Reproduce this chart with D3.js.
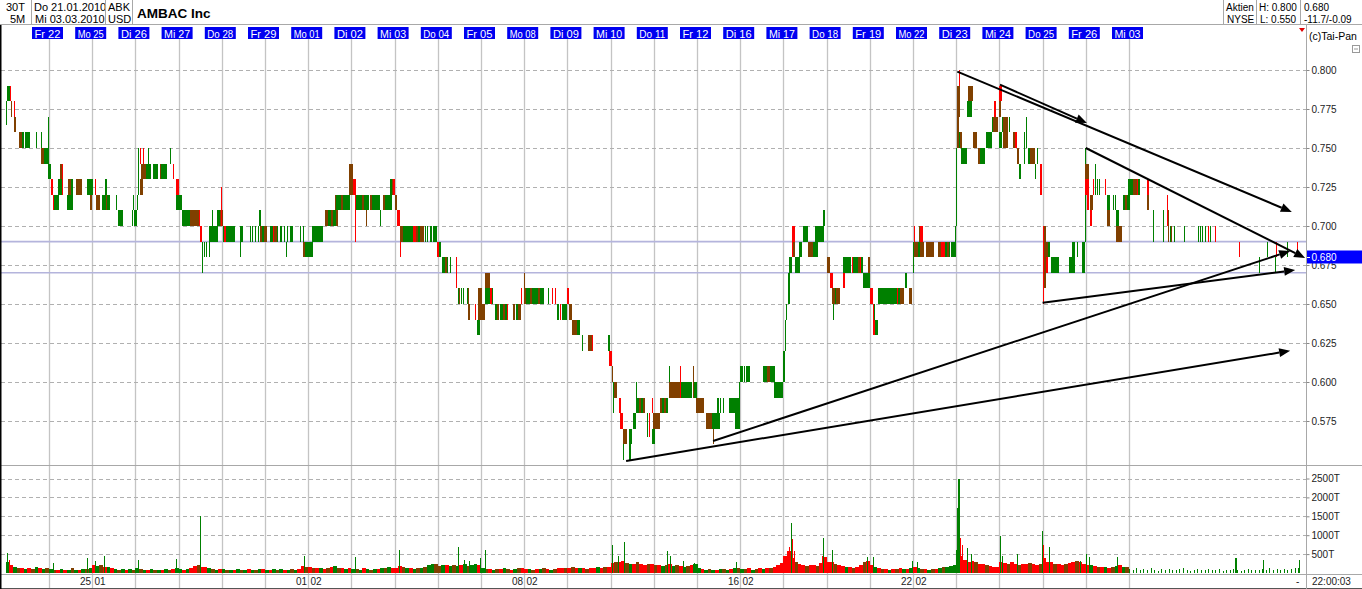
<!DOCTYPE html>
<html><head><meta charset="utf-8">
<script src="https://cdn.jsdelivr.net/npm/d3@7"></script>
<style>body{margin:0;background:#fff;overflow:hidden}svg{display:block;font-family:Arial,"Liberation Sans",sans-serif}</style>
</head><body><svg id="c" width="1362" height="589"></svg>
<script>
// ---------- data ----------
const dayNames = ["Do 21","Fr 22","Mo 25","Di 26","Mi 27","Do 28","Fr 29","Mo 01","Di 02","Mi 03","Do 04","Fr 05","Mo 08","Di 09","Mi 10","Do 11","Fr 12","Di 16","Mi 17","Do 18","Fr 19","Mo 22","Di 23","Mi 24","Do 25","Fr 26","Mi 03"];
const weekStarts = [[2,"25.01"],[7,"01.02"],[12,"08.02"],[17,"16.02"],[21,"22.02"]];
const priceTicks = [0.575,0.600,0.625,0.650,0.675,0.700,0.725,0.750,0.775,0.800];
const volTicks = [500,1000,1500,2000,2500];
const barsPerDay = 78;          // 5-minute bars per session
const totalBars = 2340;         // 30 sessions
const lastPrice = 0.680;
const markLevels = [0.690, 0.670];
const headerLeft = [["30T","5M"],["Do 21.01.2010","Mi 03.03.2010"],["ABK","USD"]];
const headerRight = [["Aktien","NYSE"],["H: 0.800","L: 0.550"],["0.680","-11.7/-0.09"]];

// price blocks: [fromBar, toBar, low, high, colour]  (g up, r down, b mixed)
const barsA = [
[0,2,.770,.780,"g"],[0,1,.765,.770,"g"],[2,8,.780,.790,"g"],[8,9,.780,.790,"r"],[9,12,.770,.780,"b"],[15,17,.770,.780,"r"],[15,18,.760,.770,"b"],[24,29,.750,.760,"b"],[29,33,.750,.760,"g"],[34,36,.750,.760,"g"],[37,44,.750,.760,"g"],[55,56,.750,.760,"g"],[63,65,.750,.760,"g"],[64,71,.740,.750,"b"],[69,78,.740,.750,"g"],[76,78,.750,.770,"g"],
[77,82,.730,.740,"g"],[81,85,.720,.730,"r"],[86,87,.710,.720,"r"],[87,96,.710,.720,"g"],[95,101,.720,.730,"g"],[101,104,.720,.730,"r"],[97,101,.730,.740,"b"],[101,103,.730,.740,"r"],[110,114,.710,.720,"g"],[115,116,.710,.720,"g"],[118,121,.710,.720,"g"],[112,115,.720,.730,"g"],[113,118,.720,.730,"b"],[118,122,.720,.730,"g"],[126,137,.720,.730,"b"],[147,158,.720,.730,"g"],[152,155,.710,.720,"b"],
[161,162,.720,.730,"r"],[163,170,.710,.720,"b"],[173,181,.710,.720,"g"],[181,183,.710,.720,"b"],[183,188,.710,.720,"g"],[180,181,.720,.730,"g"],[199,201,.710,.720,"g"],[203,211,.700,.710,"g"],[227,230,.700,.710,"g"],[231,236,.700,.710,"g"],[230,231,.710,.720,"g"],[236,238,.710,.720,"g"],
[238,240,.720,.750,"g"],[242,245,.740,.750,"r"],[247,250,.740,.750,"r"],[242,247,.720,.730,"b"],[245,253,.730,.740,"b"],[253,262,.730,.740,"g"],[257,258,.740,.750,"g"],[266,275,.730,.740,"g"],[278,281,.730,.740,"b"],[281,291,.730,.740,"g"],[296,299,.740,.750,"g"],[301,304,.730,.740,"r"],[307,312,.710,.730,"r"],[308,318,.710,.720,"g"],
[318,333,.700,.710,"g"],[333,342,.700,.710,"b"],[342,349,.700,.710,"b"],[349,351,.700,.710,"r"],[351,354,.690,.700,"r"],[354,356,.670,.690,"g"],[358,360,.680,.690,"g"],[361,364,.680,.690,"g"],[366,369,.680,.690,"g"],[367,384,.690,.700,"g"],[373,374,.700,.710,"g"],[382,387,.700,.710,"g"],[387,392,.700,.710,"b"],[388,389,.700,.725,"r"]
];
const barsB = [
[392,414,.690,.700,"g"],[394,398,.690,.700,"r"],[422,423,.680,.690,"g"],[423,428,.690,.700,"g"],[441,442,.690,.700,"g"],[444,446,.690,.700,"g"],[450,451,.690,.700,"g"],[455,457,.690,.700,"g"],[458,459,.700,.710,"g"],[459,463,.690,.700,"b"],[463,466,.690,.700,"g"],[466,471,.690,.700,"b"],
[477,482,.690,.700,"g"],[482,483,.690,.700,"b"],[483,485,.690,.700,"r"],[485,489,.690,.700,"b"],[490,492,.690,.700,"g"],[495,499,.690,.700,"g"],[502,504,.690,.700,"g"],[508,510,.690,.700,"g"],[513,519,.690,.700,"g"],[506,507,.680,.690,"g"],[531,532,.690,.700,"g"],[537,538,.690,.700,"g"],[537,540,.680,.690,"b"],[541,554,.680,.690,"g"],[552,573,.690,.700,"g"],
[576,582,.700,.710,"b"],[582,587,.700,.710,"g"],[587,591,.700,.710,"b"],[591,596,.700,.710,"g"],[596,600,.700,.710,"b"],[594,597,.710,.720,"b"],[597,606,.710,.720,"g"],[606,609,.710,.720,"b"],[609,621,.710,.720,"g"],[620,627,.730,.740,"b"],[620,627,.720,.730,"b"],[627,632,.720,.730,"r"],[631,632,.690,.720,"r"],
[633,643,.710,.720,"g"],[643,646,.710,.720,"b"],[647,655,.710,.720,"g"],[658,662,.710,.720,"b"],[662,676,.710,.720,"g"],[681,684,.710,.720,"b"],[684,697,.710,.720,"g"],[650,652,.700,.710,"b"],[676,677,.700,.710,"g"],[694,697,.720,.730,"g"],[697,701,.720,.730,"b"],[700,701,.720,.730,"r"],[703,706,.710,.720,"b"],[706,711,.700,.710,"r"],[711,712,.680,.700,"r"]
];
const barsC = [
[712,718,.690,.700,"b"],[718,736,.690,.700,"g"],[736,740,.690,.700,"r"],[740,745,.690,.700,"b"],[745,748,.690,.700,"g"],[748,755,.690,.700,"b"],[756,759,.690,.700,"g"],[760,762,.690,.700,"g"],[766,770,.690,.700,"g"],[772,778,.690,.700,"g"],[779,783,.680,.690,"r"],[783,785,.680,.690,"g"],[788,793,.670,.680,"g"],[793,797,.670,.680,"b"],[797,798,.670,.680,"g"],[802,803,.670,.680,"g"],
[813,814,.660,.680,"r"],[816,817,.650,.660,"g"],[818,820,.650,.660,"b"],[822,824,.650,.660,"g"],[826,827,.650,.660,"g"],[833,835,.650,.660,"g"],[835,837,.650,.660,"b"],[835,838,.640,.650,"b"],[847,848,.640,.650,"r"],[850,857,.630,.640,"g"],[853,865,.640,.650,"b"],[853,859,.650,.660,"b"],[865,875,.660,.670,"b"],[865,874,.650,.660,"g"],[874,878,.650,.660,"r"],[878,880,.650,.660,"g"],
[883,887,.640,.650,"g"],[887,891,.640,.650,"b"],[892,898,.640,.650,"g"],[898,901,.640,.650,"b"],[901,905,.640,.650,"g"],[905,907,.640,.650,"r"],[916,920,.640,.650,"b"],[921,924,.640,.650,"g"],[924,930,.640,.650,"b"],[930,932,.650,.660,"r"],[936,939,.650,.660,"b"],[939,947,.650,.660,"g"],[947,950,.650,.660,"b"],[950,961,.650,.660,"g"],[961,965,.650,.660,"b"],[965,971,.650,.660,"g"],[936,938,.660,.670,"b"],
[979,981,.650,.660,"g"],[986,987,.650,.660,"r"],[992,993,.650,.660,"r"],[995,998,.640,.650,"g"],[1000,1003,.640,.650,"r"],[1004,1013,.640,.650,"g"],[1016,1022,.640,.650,"b"],[1014,1015,.650,.660,"r"],[1022,1031,.630,.640,"b"],[1031,1032,.630,.640,"g"],[1034,1036,.630,.640,"g"],
[1040,1042,.620,.630,"g"],[1052,1058,.620,.630,"b"],[1058,1059,.620,.630,"r"],[1087,1088,.620,.630,"g"],[1089,1090,.620,.630,"g"],[1090,1095,.610,.620,"r"]
];
const barsD = [
[1094,1096,.600,.610,"b"],[1096,1104,.590,.600,"b"],[1096,1097,.580,.600,"g"],[1108,1109,.580,.590,"r"],[1109,1114,.570,.580,"r"],[1114,1121,.560,.570,"b"],[1115,1116,.550,.560,"g"],[1126,1127,.550,.570,"g"],[1129,1130,.560,.570,"g"],[1132,1138,.570,.580,"g"],[1138,1139,.590,.600,"g"],[1138,1143,.580,.590,"g"],[1143,1147,.580,.590,"b"],[1147,1151,.580,.590,"g"],[1151,1154,.580,.590,"b"],[1157,1158,.565,.580,"g"],[1161,1163,.565,.580,"r"],[1166,1167,.580,.590,"r"],[1166,1172,.560,.570,"g"],[1169,1181,.570,.580,"b"],
[1181,1185,.580,.590,"b"],[1185,1188,.580,.590,"g"],[1188,1192,.580,.590,"b"],[1192,1196,.580,.590,"g"],[1198,1217,.590,.600,"b"],[1217,1220,.590,.600,"r"],[1220,1239,.590,.600,"g"],[1240,1243,.590,.600,"b"],[1243,1248,.590,.600,"g"],[1198,1199,.600,.610,"g"],[1217,1219,.600,.610,"r"],[1240,1241,.600,.610,"b"],[1246,1261,.580,.590,"b"],
[1265,1275,.570,.580,"b"],[1275,1290,.570,.580,"g"],[1276,1277,.560,.570,"b"],[1285,1286,.580,.590,"g"],[1290,1292,.580,.590,"g"],[1295,1297,.580,.590,"g"],[1305,1326,.580,.590,"g"],[1317,1324,.570,.580,"g"],[1324,1326,.570,.600,"g"],[1326,1331,.600,.610,"g"],[1332,1335,.600,.610,"g"],[1337,1344,.600,.610,"g"],
[1368,1374,.600,.610,"g"],[1374,1380,.600,.610,"b"],[1380,1389,.600,.610,"g"],[1387,1403,.590,.600,"g"],[1403,1406,.600,.620,"g"],[1407,1409,.620,.640,"g"],[1409,1410,.640,.650,"g"],
[1412,1416,.650,.670,"g"],[1415,1419,.670,.680,"g"],[1419,1422,.680,.700,"r"],[1422,1425,.680,.690,"b"],[1422,1425,.690,.700,"r"],[1425,1434,.670,.680,"g"],[1433,1437,.680,.690,"g"],[1439,1449,.690,.700,"g"],[1449,1457,.680,.690,"b"],[1457,1467,.680,.690,"g"],[1461,1477,.690,.700,"g"],[1476,1480,.700,.710,"g"],[1482,1488,.670,.680,"b"],
[1489,1493,.660,.670,"r"],[1491,1497,.650,.660,"b"],[1497,1499,.650,.660,"g"],[1499,1506,.650,.660,"b"],[1494,1496,.640,.650,"g"],[1511,1515,.660,.670,"r"],[1512,1526,.670,.680,"g"],[1527,1530,.670,.680,"r"],[1530,1539,.670,.680,"g"],[1539,1542,.670,.680,"b"],[1542,1545,.670,.680,"r"],[1545,1548,.670,.680,"g"],[1548,1560,.660,.670,"g"],[1557,1560,.670,.680,"b"],[1560,1566,.650,.660,"r"],[1566,1568,.640,.650,"r"],[1568,1570,.640,.650,"g"],[1566,1569,.630,.640,"r"],[1569,1575,.630,.640,"g"],
[1575,1609,.650,.660,"g"],[1609,1611,.650,.660,"r"],[1611,1614,.650,.660,"g"],[1614,1622,.650,.660,"b"],[1624,1628,.660,.670,"g"],[1630,1636,.650,.660,"b"],[1638,1639,.670,.690,"g"]
];
const barsE = [
[1639,1647,.680,.690,"b"],[1647,1651,.680,.690,"g"],[1651,1657,.680,.690,"b"],[1639,1642,.690,.700,"r"],[1648,1651,.690,.700,"b"],[1651,1656,.690,.700,"r"],[1661,1676,.680,.690,"b"],[1684,1689,.680,.690,"b"],[1689,1696,.680,.690,"r"],[1696,1700,.680,.690,"g"],[1700,1703,.680,.690,"b"],[1703,1705,.680,.690,"g"],[1707,1711,.680,.690,"g"],[1711,1715,.680,.690,"g"],[1714,1715,.690,.700,"g"],[1715,1716,.700,.750,"g"],
[1718,1722,.770,.790,"b"],[1721,1722,.790,.800,"r"],[1718,1721,.750,.770,"b"],[1721,1723,.750,.760,"g"],[1723,1726,.750,.760,"b"],[1725,1735,.740,.750,"g"],[1738,1746,.780,.790,"b"],[1736,1744,.770,.780,"g"],[1746,1753,.750,.760,"b"],[1756,1759,.740,.750,"b"],[1759,1768,.740,.750,"g"],[1770,1781,.750,.760,"g"],[1781,1783,.760,.770,"g"],[1783,1792,.760,.770,"b"],[1785,1786,.770,.780,"r"],[1794,1796,.770,.780,"b"],[1794,1798,.780,.790,"r"],[1793,1798,.750,.760,"g"],
[1798,1801,.760,.770,"g"],[1801,1810,.760,.770,"b"],[1801,1810,.750,.760,"b"],[1812,1813,.760,.770,"g"],[1818,1822,.750,.760,"b"],[1822,1825,.750,.760,"r"],[1825,1829,.740,.750,"b"],[1830,1833,.730,.740,"g"],[1838,1840,.740,.760,"g"],[1842,1843,.750,.770,"g"],[1846,1849,.740,.750,"g"],[1849,1858,.740,.750,"b"],[1861,1864,.740,.750,"g"],[1858,1859,.730,.740,"g"],[1867,1871,.720,.740,"r"],
[1872,1875,.690,.700,"r"],[1875,1878,.690,.700,"b"],[1872,1878,.660,.690,"b"],[1872,1873,.650,.700,"r"],[1879,1882,.680,.690,"b"],[1882,1885,.680,.690,"g"],[1878,1882,.670,.680,"r"],[1888,1902,.670,.680,"g"],[1920,1927,.670,.680,"g"],[1925,1926,.680,.690,"g"],[1927,1931,.670,.690,"g"],[1934,1935,.680,.690,"g"],[1944,1949,.670,.690,"g"],[1949,1951,.690,.750,"g"],
[1949,1955,.730,.740,"b"],[1949,1955,.720,.730,"r"],[1953,1954,.710,.730,"r"],[1957,1963,.710,.720,"b"],[1958,1961,.700,.710,"r"],[1963,1964,.720,.730,"r"],[1966,1967,.720,.740,"g"],[1970,1971,.720,.730,"g"],[1974,1976,.720,.730,"g"],[1985,1986,.720,.730,"r"],[1988,1994,.700,.710,"b"],[1989,1993,.710,.720,"g"],[1999,2000,.710,.720,"g"],[2003,2004,.710,.720,"g"],[2004,2015,.690,.700,"b"],[2004,2010,.700,.710,"g"],[2018,2021,.710,.720,"g"],[2021,2025,.710,.720,"b"],[2025,2030,.710,.720,"g"],[2026,2030,.720,.730,"g"],
[2030,2035,.720,.730,"g"],[2036,2042,.720,.730,"b"],[2043,2045,.720,.730,"r"],[2045,2048,.720,.730,"g"],[2060,2065,.720,.730,"r"],[2060,2065,.710,.720,"b"],[2072,2073,.690,.710,"g"],[2090,2091,.690,.710,"g"],[2096,2097,.700,.720,"r"],[2099,2101,.690,.710,"b"],[2102,2103,.690,.700,"g"],[2104,2106,.690,.700,"b"],[2109,2111,.690,.700,"g"],[2128,2129,.690,.700,"g"],[2152,2153,.690,.700,"g"],[2156,2157,.690,.700,"g"],[2159,2160,.690,.700,"g"],[2165,2167,.690,.700,"g"],[2170,2171,.690,.700,"r"],[2174,2176,.690,.700,"g"],[2183,2184,.690,.700,"r"],[2227,2229,.680,.690,"r"],[2263,2265,.670,.680,"g"],[2277,2278,.680,.690,"g"],[2292,2293,.670,.680,"g"],[2293,2295,.680,.690,"r"],[2313,2314,.680,.690,"g"],[2331,2332,.680,.690,"r"]
];

// volume (thousands): 12 bins per session + colour per bin
const volBase = [
[300,200,150,120,140,110,130,100,160,120,110,140],[110,90,80,100,70,90,120,80,90,100,110,130],[200,180,220,170,150,120,100,90,110,80,100,90],[120,100,90,80,100,70,90,80,100,90,110,130],
[110,90,100,130,180,200,170,150,120,100,90,110],[100,90,80,90,110,80,90,100,80,90,110,100],[90,80,100,90,110,80,90,100,90,110,180,170],[150,130,120,140,110,130,160,180,140,120,110,130],
[110,100,90,120,100,90,110,100,120,130,150,140],[140,180,170,130,120,110,130,140,150,200,250,230],[180,200,220,190,210,180,200,230,190,210,240,220],[130,110,100,90,110,100,120,110,90,100,130,120],
[100,110,90,100,110,120,100,90,110,120,140,130],[130,150,120,140,130,110,120,140,160,130,150,170],[260,300,280,320,260,250,240,280,230,220,250,240],[220,200,190,210,230,180,200,190,170,180,210,250],
[120,100,90,110,80,90,100,110,90,100,120,130],[110,100,120,90,110,130,100,120,140,160,200,260],[450,580,400,300,250,200,180,220,200,190,260,430],[300,280,250,200,180,150,160,140,170,200,300,330],
[200,150,120,110,100,90,110,100,120,110,100,140],[150,120,100,110,90,100,110,130,150,160,180,220],[600,450,350,300,330,280,250,230,200,180,160,170],[300,260,240,280,250,220,230,250,260,240,220,230],
[400,300,280,250,230,220,240,260,300,320,280,250],[220,200,180,160,150,170,140,160,180,200,170,150],[110,90,130,70,100,80,120,90,60,100,80,110],[90,70,100,120,80,60,90,110,70,80,100,90],
[80,100,60,90,70,110,80,60,90,100,70,80],[90,100,80,120,70,100,90,110,80,100,130,120]
];
const volColors = ["grgbrgrbgrgb","gbrgrgbgrgbg","rgbrgrgbgrgb","gbgrgbgrgbrg","grgrrbrrgbgr","gbgrgbgrgbgr","grgbgrgbgrrb","rbrgrbrgbrgr","gbgrgbgrgbgr","rrbgrgbgbggb","bgrgbgrgbggr","gbrgbrgbrgbr","rgbrgbrgbrrb","rbrgrbrrgrbr","rbrrbgrbrrbr","brgbrgbrgbrg","grgbgrgbgrgb","gbrgbrgrbrrr","rrrbrrbrrbrr","rrbrrgrbrrbr","rgrbrgrbrgrg","rgbrgbrgbggg","grrrrbrrbrrr","rrbrrbrrbrrb","rrrbrrbrrbrr","rgrbrgrbgrgb","gggggggggggg","gggggggggggg","gggggggggggg","gggggggggggg"];
const volSpikes = [
[2,530,"g"],[6,350,"r"],[85,260,"g"],[147,400,"g"],[161,310,"g"],[177,440,"g"],[239,350,"g"],[307,380,"g"],[351,1500,"g"],[538,460,"g"],[630,420,"g"],[710,620,"g"],[816,690,"g"],[827,350,"g"],[836,310,"g"],[856,390,"g"],[865,600,"g"],[1094,730,"g"],[1105,440,"g"],[1116,815,"g"],[1194,570,"g"],[1199,440,"g"],[1223,310,"g"],[1243,260,"g"],[1248,250,"g"],[1318,300,"g"],
[1411,440,"r"],[1414,700,"r"],[1418,1310,"g"],[1420,910,"r"],[1423,580,"r"],[1473,440,"r"],[1475,930,"g"],[1492,620,"g"],[1555,425,"g"],[1566,425,"g"],[1636,310,"g"],[1645,300,"g"],
[1718,1730,"g"],[1720,2480,"g"],[1723,930,"r"],[1727,750,"r"],[1736,660,"g"],[1743,490,"g"],[1795,990,"g"],[1799,440,"g"],[1826,510,"g"],[1871,1110,"g"],[1873,730,"r"],[1884,690,"g"],[1940,310,"g"],[1950,505,"g"],[1956,425,"g"],[2006,425,"g"],[2220,400,"g"],[2270,355,"g"],[2335,340,"g"]
];

// hand-drawn trend lines: [bar, price] -> [bar, price]
const trendFrom = [[1718,0.799],[1795,0.7906],[1950,0.750],[1872,0.6508],[1277,0.5622],[1120,0.5494]];
const trendTo   = [[2322,0.709],[1952,0.766],[2346,0.6795],[2328,0.6718],[2319,0.684],[2319,0.620]];

// ---------- drawing ----------
const svg = d3.select("#c");
const W = 1362, H = 589, AX = 1306.5;
const x = d3.scaleLinear().domain([0, totalBars]).range([5.8, 1301.8]);
const yP = d3.scaleLinear().domain([0.55, 0.80]).range([460, 70]);
const yV = d3.scaleLinear().domain([0, 2500]).range([573, 478.5]);
const col = {g:"#008000", r:"#ff0000", b:"#804000"};
const gridC = "#c4c4c4", lineC = "#a8a8a8";

svg.append("rect").attr("width",W).attr("height",H).attr("fill","#fff");

// header
const hdrL = svg.append("g").attr("font-size","11px").attr("fill","#000");
const leftX = [[6,10],[34,35],[108,108]];
headerLeft.forEach((pair,i)=>pair.forEach((t,j)=>hdrL.append("text").attr("x",leftX[i][j]).attr("y",j?22.5:10.5).text(t)));
svg.append("text").attr("x",137).attr("y",17.5).attr("font-size","13.5px").attr("font-weight","bold").text("AMBAC Inc");
const hdrR = svg.append("g").attr("font-size","10px").attr("fill","#000");
const rightX = [[1226,1227],[1259,1260],[1304,1304]];
headerRight.forEach((pair,i)=>pair.forEach((t,j)=>hdrR.append("text").attr("x",rightX[i][j]).attr("y",j?22.5:10.5).text(t)));
[31.5,105.5,132.5,1223.5,1256.5,1300.5].forEach(v=>svg.append("line").attr("x1",v).attr("x2",v).attr("y1",0).attr("y2",24.5).attr("stroke",lineC));
svg.append("line").attr("x1",0).attr("x2",W).attr("y1",24.5).attr("y2",24.5).attr("stroke",lineC);
svg.append("path").attr("d","M1299,28 L1305,28 L1302,32 Z").attr("fill","#e00000");
svg.append("text").attr("x",1309).attr("y",40).attr("font-size","10.5px").text("(c)Tai-Pan");
svg.append("rect").attr("x",1352.5).attr("y",45.5).attr("width",7).attr("height",7).attr("fill","none").attr("stroke","#999");
svg.append("line").attr("x1",1354).attr("x2",1358).attr("y1",49).attr("y2",49).attr("stroke","#999");

// day grid lines
const days = d3.range(1, dayNames.length);
svg.append("g").selectAll("line").data(days).join("line")
  .attr("x1",k=>Math.round(x(k*barsPerDay))+0.5).attr("x2",k=>Math.round(x(k*barsPerDay))+0.5)
  .attr("y1",39).attr("y2",589).attr("stroke",gridC).attr("stroke-width",1.3);

// day labels
const lab = svg.append("g");
days.forEach(k=>{
  const cx = x(k*barsPerDay) - 1.5;
  lab.append("rect").attr("x",cx-15.5).attr("y",27).attr("width",31).attr("height",12).attr("fill","#0000f0");
  lab.append("text").attr("x",cx).attr("y",37.5).attr("text-anchor","middle").attr("font-size","11px")
    .attr("textLength",26).attr("lengthAdjust","spacingAndGlyphs").attr("fill","#fff").text(dayNames[k]);
});

// horizontal dashed grids
svg.append("g").selectAll("line").data(priceTicks).join("line")
  .attr("x1",1).attr("x2",AX).attr("y1",d=>Math.round(yP(d))+0.5).attr("y2",d=>Math.round(yP(d))+0.5)
  .attr("stroke","#b0b0b0").attr("stroke-dasharray","4,3");
svg.append("g").selectAll("line").data(volTicks).join("line")
  .attr("x1",1).attr("x2",AX).attr("y1",d=>Math.round(yV(d))+0.5).attr("y2",d=>Math.round(yV(d))+0.5)
  .attr("stroke","#b0b0b0").attr("stroke-dasharray","4,3");

// marker levels (lavender)
svg.append("g").selectAll("line").data(markLevels).join("line")
  .attr("x1",1).attr("x2",AX).attr("y1",d=>yP(d)).attr("y2",d=>yP(d))
  .attr("stroke","#b4b4dc").attr("stroke-width",1.6);

// price blocks
const bars = barsA.concat(barsB, barsC, barsD, barsE);
svg.append("g").selectAll("rect").data(bars).join("rect")
  .attr("x",d=>x(d[0])).attr("width",d=>Math.max(1.1, x(d[1])-x(d[0])))
  .attr("y",d=>yP(d[3])).attr("height",d=>yP(d[2])-yP(d[3]))
  .attr("fill",d=>col[d[4]]).attr("shape-rendering","crispEdges");

// volume
const vg = svg.append("g").attr("shape-rendering","crispEdges");
volBase.forEach((arr,k)=>{
  arr.forEach((v,j)=>{
    const b0 = k*barsPerDay + j*barsPerDay/12, b1 = b0 + barsPerDay/12;
    const thin = k >= 26;
    vg.append("rect").attr("x",x(b0)).attr("width",thin?1:(x(b1)-x(b0)))
      .attr("y",yV(v)).attr("height",yV(0)-yV(v)).attr("fill",col[volColors[k][j]]);
  });
});
vg.selectAll("rect.sp").data(volSpikes).join("rect").attr("class","sp")
  .attr("x",d=>x(d[0])).attr("width",1.2).attr("y",d=>yV(d[1])).attr("height",d=>yV(0)-yV(d[1]))
  .attr("fill",d=>col[d[2]]);

// trend lines with arrows
const tg = svg.append("g");
trendFrom.forEach((f,i)=>{
  const t = trendTo[i];
  const x1 = x(f[0]), y1 = yP(f[1]), x2 = x(t[0]), y2 = yP(t[1]);
  const a = Math.atan2(y2-y1, x2-x1), L = 11, hw = 4.5;
  const bx = x2 - L*Math.cos(a), by = y2 - L*Math.sin(a);
  tg.append("line").attr("x1",x1).attr("y1",y1).attr("x2",bx).attr("y2",by).attr("stroke","#000").attr("stroke-width",2);
  tg.append("path").attr("d",`M${x2},${y2} L${bx+hw*Math.sin(a)},${by-hw*Math.cos(a)} L${bx-hw*Math.sin(a)},${by+hw*Math.cos(a)} Z`).attr("fill","#000");
});

// pane separators and borders
svg.append("line").attr("x1",0).attr("x2",W).attr("y1",465.5).attr("y2",465.5).attr("stroke",lineC);
svg.append("line").attr("x1",0).attr("x2",W).attr("y1",574.5).attr("y2",574.5).attr("stroke",lineC);
svg.append("line").attr("x1",0).attr("x2",W).attr("y1",588.5).attr("y2",588.5).attr("stroke","#555");
svg.append("line").attr("x1",AX).attr("x2",AX).attr("y1",24.5).attr("y2",589).attr("stroke",lineC);
svg.append("line").attr("x1",0.75).attr("x2",0.75).attr("y1",25).attr("y2",589).attr("stroke","#000").attr("stroke-width",1.5);

// price axis (0.675 label sits partly under the last-price box, as in the original)
const pa = svg.append("g").attr("transform",`translate(${AX},0)`)
  .call(d3.axisRight(yP).tickValues(priceTicks).tickFormat(d3.format(".3f")).tickSize(3).tickPadding(2));
pa.select(".domain").remove();
pa.selectAll("text").attr("font-size","10px").attr("fill","#222").attr("font-family","Arial, 'Liberation Sans', sans-serif");
pa.selectAll("line").attr("stroke","#888");

// volume axis
const va = svg.append("g").attr("transform",`translate(${AX},0)`)
  .call(d3.axisRight(yV).tickValues(volTicks).tickFormat(d=>d+"T").tickSize(3).tickPadding(2));
va.select(".domain").remove();
va.selectAll("text").attr("font-size","10px").attr("fill","#222").attr("font-family","Arial, 'Liberation Sans', sans-serif");
va.selectAll("line").attr("stroke","#888");

// last price box
const ly = Math.round(yP(lastPrice));
svg.append("rect").attr("x",AX+0.5).attr("y",ly-6.5).attr("width",W-AX).attr("height",13).attr("fill","#0000ff");
svg.append("line").attr("x1",AX+0.5).attr("x2",AX+3.5).attr("y1",ly+0.5).attr("y2",ly+0.5).attr("stroke","#fff");
svg.append("text").attr("x",AX+5).attr("y",ly+4).attr("font-size","10px").attr("fill","#fff").text(d3.format(".3f")(lastPrice));

// bottom date labels
const bl = svg.append("g").attr("font-size","10px").attr("fill","#222");
weekStarts.forEach(([k,s])=>{
  const xx = Math.round(x(k*barsPerDay))+0.5; const [a,b] = s.split(".");
  bl.append("text").attr("x",xx-1.5).attr("y",585).attr("text-anchor","end").text(a);
  bl.append("text").attr("x",xx+2).attr("y",585).text(b);
});
bl.append("text").attr("x",1296).attr("y",585).text("-");
bl.append("text").attr("x",1312).attr("y",585).text("22:00:03");
</script>
</body></html>
